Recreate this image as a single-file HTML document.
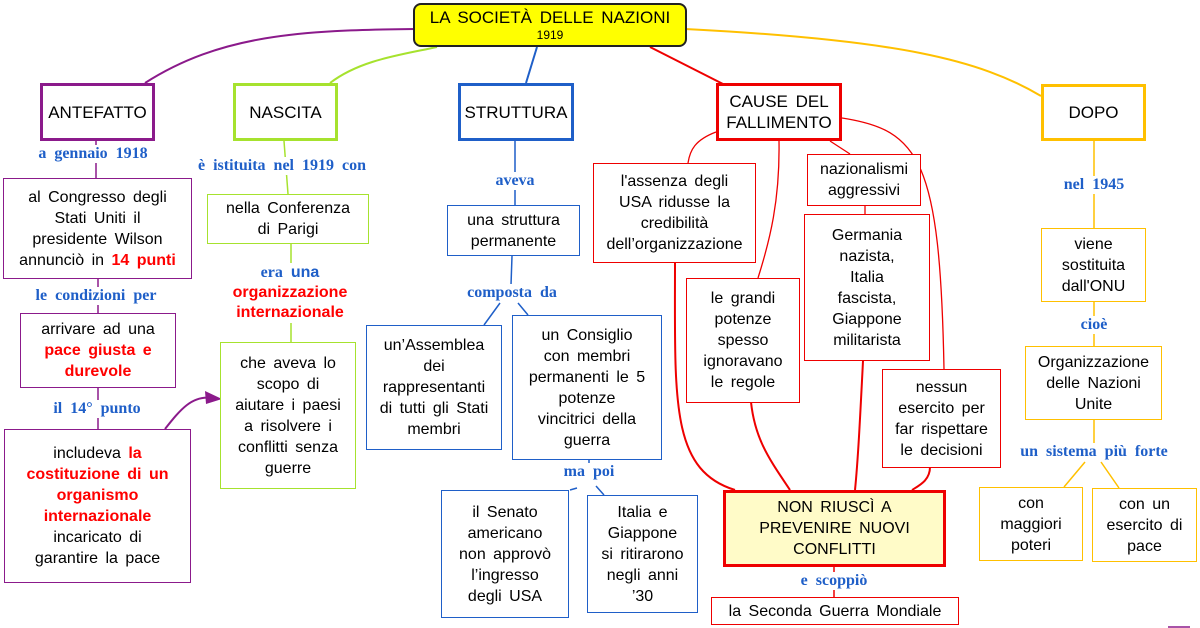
<!DOCTYPE html>
<html><head><meta charset="utf-8"><style>
body{margin:0;width:1200px;height:628px;background:#fff;position:relative;overflow:hidden;font-family:"Liberation Sans",sans-serif}
.b{position:absolute;box-sizing:border-box;display:flex;align-items:center;justify-content:center;text-align:center;font-size:16px;line-height:21px;color:#000;background:#fff;white-space:nowrap;word-spacing:3px}
.l{position:absolute;font-family:"Liberation Serif",serif;font-weight:bold;color:#1f5fc8;font-size:16px;text-align:center;white-space:nowrap;transform:translateX(-50%);background:#fff;line-height:18px;word-spacing:4px}
.r{color:#ff0000;font-weight:bold;font-family:"Liberation Sans",sans-serif}
.P{border:1.5px solid #8b1a8b}.G{border:1.5px solid #a6e22e}.B{border:1.5px solid #1f5fc8}.R{border:1.5px solid #ee0000}.O{border:1.5px solid #ffc000}
svg{position:absolute;left:0;top:0}
</style></head><body>
<svg width="1200" height="628" fill="none" stroke-width="2">
<path d="M415 29 C300 30 220 35 145 83" stroke="#8b1a8b"/>
<path d="M437 47 C400 55 360 60 330 83" stroke="#a6e22e"/>
<path d="M537 47 L526 83" stroke="#1f5fc8"/>
<path d="M650 47 L723 84" stroke="#ee0000"/>
<path d="M685 29 C900 40 980 60 1041 96" stroke="#ffc000"/>
<g stroke-width="1.5">
<path d="M96 141 V178 M98 279 V313 M98 388 V429" stroke="#8b1a8b"/>
<path d="M284 141 L288 194 M291 244 L291 342" stroke="#a6e22e"/>
<path d="M515 141 V205 M512 256 L511 285 M500 303 L484 325 M518 303 L528 315 M589 460 L589 470 M577 488 L570 490 M596 486 L604 495" stroke="#1f5fc8"/>
<path d="M1094 141 V228 M1094 302 V346 M1094 420 V452 M1085 462 L1064 487 M1101 462 L1119 488" stroke="#ffc000"/>
<path d="M1168 627 H1190" stroke="#8b1a8b"/>
<path d="M834 567 V597" stroke="#ee0000"/>
<path d="M165 429 C180 410 192 395 212 398" stroke="#8b1a8b" stroke-width="2"/>
</g>
<path d="M205 391 L222 399 L206 404 Z" fill="#8b1a8b"/>
<g stroke="#ee0000" stroke-width="1.3">
<path d="M716 132 C695 140 690 150 688 163"/>
<path d="M779 141 C780 200 770 240 758 278"/>
<path d="M830 141 L850 154"/>
<path d="M865 206 V214"/>
<path d="M842 118 C920 130 940 160 944 369"/>
</g>
<g stroke="#ee0000" stroke-width="2">
<path d="M675 262 C675 400 670 470 735 490"/>
<path d="M751 402 C755 440 770 460 790 490"/>
<path d="M863 361 C860 420 858 460 855 490"/>
<path d="M930 467 C930 480 920 485 912 490"/>
</g>
</svg>

<div class="b" style="left:413px;top:3px;width:274px;height:44px;background:#ffff00;border:2px solid #222;border-radius:8px;flex-direction:column;font-size:17px;line-height:20px">LA SOCIETÀ DELLE NAZIONI<span style="font-size:12px;line-height:14px">1919</span></div>

<div class="b" style="left:40px;top:83px;width:115px;height:58px;border:3px solid #8b1a8b;font-size:17px;word-spacing:0">ANTEFATTO</div>
<div class="b" style="left:233px;top:83px;width:105px;height:58px;border:3px solid #a6e22e;font-size:17px">NASCITA</div>
<div class="b" style="left:458px;top:83px;width:116px;height:58px;border:3px solid #1f5fc8;font-size:17px">STRUTTURA</div>
<div class="b" style="left:716px;top:83px;width:126px;height:58px;border:3px solid #ee0000;font-size:17px"><div>CAUSE DEL<br>FALLIMENTO</div></div>
<div class="b" style="left:1041px;top:84px;width:105px;height:57px;border:3px solid #ffc000;font-size:17px">DOPO</div>

<div class="l" style="left:93px;top:145px">a gennaio 1918</div>
<div class="b P" style="left:3px;top:178px;width:189px;height:101px"><div>al Congresso degli<br>Stati Uniti il<br>presidente Wilson<br>annunciò in <span class="r">14 punti</span></div></div>
<div class="l" style="left:96px;top:287px">le condizioni per</div>
<div class="b P" style="left:20px;top:313px;width:156px;height:75px"><div>arrivare ad una<br><span class="r">pace giusta e<br>durevole</span></div></div>
<div class="l" style="left:97px;top:400px">il 14° punto</div>
<div class="b P" style="left:4px;top:429px;width:187px;height:154px"><div>includeva <span class="r">la<br>costituzione di un<br>organismo<br>internazionale</span><br>incaricato di<br>garantire la pace</div></div>

<div class="l" style="left:282px;top:157px">è istituita nel 1919 con</div>
<div class="b G" style="left:207px;top:194px;width:162px;height:50px"><div>nella Conferenza<br>di Parigi</div></div>
<div class="l" style="left:290px;top:263px;line-height:20px">era <span style="font-family:'Liberation Sans';font-weight:bold;color:#1f5fc8">una</span><br><span class="r">organizzazione<br>internazionale</span></div>
<div class="b G" style="left:220px;top:342px;width:136px;height:147px"><div>che aveva lo<br>scopo di<br>aiutare i paesi<br>a risolvere i<br>conflitti senza<br>guerre</div></div>

<div class="l" style="left:515px;top:172px">aveva</div>
<div class="b B" style="left:447px;top:205px;width:133px;height:51px"><div>una struttura<br>permanente</div></div>
<div class="l" style="left:512px;top:284px">composta da</div>
<div class="b B" style="left:366px;top:325px;width:136px;height:125px"><div>un’Assemblea<br>dei<br>rappresentanti<br>di tutti gli Stati<br>membri</div></div>
<div class="b B" style="left:512px;top:315px;width:150px;height:145px"><div>un Consiglio<br>con membri<br>permanenti le 5<br>potenze<br>vincitrici della<br>guerra</div></div>
<div class="l" style="left:589px;top:463px">ma poi</div>
<div class="b B" style="left:441px;top:490px;width:128px;height:128px"><div>il Senato<br>americano<br>non approvò<br>l’ingresso<br>degli USA</div></div>
<div class="b B" style="left:587px;top:495px;width:111px;height:118px"><div>Italia e<br>Giappone<br>si ritirarono<br>negli anni<br>’30</div></div>

<div class="b R" style="left:593px;top:163px;width:163px;height:100px"><div>l'assenza degli<br>USA ridusse la<br>credibilità<br>dell’organizzazione</div></div>
<div class="b R" style="left:686px;top:278px;width:114px;height:125px"><div>le grandi<br>potenze<br>spesso<br>ignoravano<br>le regole</div></div>
<div class="b R" style="left:807px;top:154px;width:114px;height:52px"><div>nazionalismi<br>aggressivi</div></div>
<div class="b R" style="left:804px;top:214px;width:126px;height:147px"><div>Germania<br>nazista,<br>Italia<br>fascista,<br>Giappone<br>militarista</div></div>
<div class="b R" style="left:882px;top:369px;width:119px;height:99px"><div>nessun<br>esercito per<br>far rispettare<br>le decisioni</div></div>
<div class="b" style="left:723px;top:490px;width:223px;height:77px;border:3px solid #ee0000;background:#fffbc8;font-size:16px"><div>NON RIUSCÌ A<br>PREVENIRE NUOVI<br>CONFLITTI</div></div>
<div class="l" style="left:834px;top:572px">e scoppiò</div>
<div class="b R" style="left:711px;top:597px;width:248px;height:28px">la Seconda Guerra Mondiale</div>

<div class="l" style="left:1094px;top:176px">nel 1945</div>
<div class="b O" style="left:1041px;top:228px;width:105px;height:74px"><div>viene<br>sostituita<br>dall'ONU</div></div>
<div class="l" style="left:1094px;top:316px">cioè</div>
<div class="b O" style="left:1025px;top:346px;width:137px;height:74px"><div>Organizzazione<br>delle Nazioni<br>Unite</div></div>
<div class="l" style="left:1094px;top:443px">un sistema più forte</div>
<div class="b O" style="left:979px;top:487px;width:104px;height:74px"><div>con<br>maggiori<br>poteri</div></div>
<div class="b O" style="left:1092px;top:488px;width:105px;height:74px"><div>con un<br>esercito di<br>pace</div></div>
</body></html>
